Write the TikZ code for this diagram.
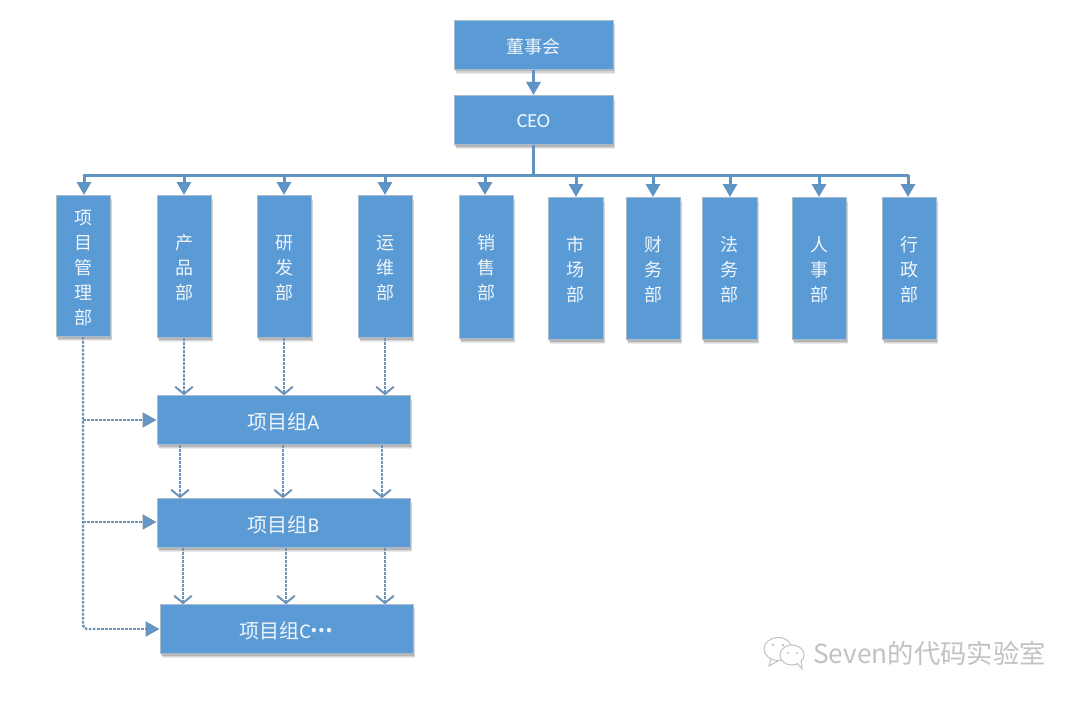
\documentclass[tikz,border=0pt]{standalone}
\usepackage{fontspec}
\setmainfont{Noto Sans CJK SC}
\newfontfamily\latinface{Carlito}
\usetikzlibrary{arrows.meta,shadows,calc}
\definecolor{boxblue}{HTML}{5B9BD5}
\definecolor{boxedge}{HTML}{A9BACB}
\definecolor{solidline}{HTML}{5F93C4}
\definecolor{dashline}{HTML}{6D93B8}
\definecolor{markgrey}{HTML}{C2C2C2}
\newcommand{\orgrule}{18pt}
\tikzset{
  x=1pt,y=-1pt,
  softshadow/.style={
    drop shadow={shadow xshift=2pt,shadow yshift=-4.5pt,opacity=0.07,fill=black},
    drop shadow={shadow xshift=1.5pt,shadow yshift=-3.2pt,opacity=0.10,fill=black},
    drop shadow={shadow xshift=1pt,shadow yshift=-2pt,opacity=0.14,fill=black}},
  orgbox/.style={draw=boxedge,line width=1pt,fill=boxblue,text=white!90!boxblue,inner sep=0pt,
    font=\fontsize{18}{25}\selectfont,align=center,softshadow},
  groupbox/.style={orgbox,font=\fontsize{20}{25}\selectfont},
  solidlink/.style={draw=solidline,line width=3pt,-{Triangle[length=13pt,width=14pt,fill=boxblue]}},
  busline/.style={draw=solidline,line width=3pt},
  dashlink/.style={draw=dashline,line width=2.4pt,dash pattern=on 2.6pt off 1.4pt,
    -{Straight Barb[length=7pt,width=17pt,line width=2pt,round,sep=0pt]}},
  sidelink/.style={draw=dashline,line width=2.4pt,dash pattern=on 2.6pt off 1.4pt,
    -{Triangle[length=14pt,width=15pt,fill=boxblue]}},
  sideline/.style={draw=dashline,line width=2.4pt,dash pattern=on 2.6pt off 1.4pt,rounded corners=4pt},
}
\newcommand{\orgbox}[8][orgbox]{\node[#1,minimum width=#5-#3,minimum height=#6-#4,anchor=center] (#2) at ({(#3+#5)/2},{(#4+#6)/2-0.5}) {\rule{0pt}{#7}#8};}
\begin{document}
\begin{tikzpicture}
\useasboundingbox (0,0) rectangle (1080,701);
\fill[white] (0,0) rectangle (1080,701);
% boxes
\orgbox{board}{454}{21}{613}{70}{18pt}{董事会}
\orgbox{ceo}{454}{96}{613}{145}{18pt}{{\latinface\fontsize{20}{25}\selectfont\raisebox{1.5pt}{CEO}}}
\orgbox{d1}{56}{196}{110}{337}{18pt}{项\\目\\管\\理\\部}
\orgbox{d2}{157}{196}{211}{338}{17pt}{产\\品\\部}
\orgbox{d3}{257}{196}{311}{338}{17pt}{研\\发\\部}
\orgbox{d4}{358}{196}{412}{338}{17pt}{运\\维\\部}
\orgbox{d5}{459}{196}{513}{339}{17pt}{销\\售\\部}
\orgbox{d6}{548}{198}{603}{340}{17pt}{市\\场\\部}
\orgbox{d7}{626}{198}{680}{340}{17pt}{财\\务\\部}
\orgbox{d8}{702}{198}{757}{340}{17pt}{法\\务\\部}
\orgbox{d9}{792}{198}{846}{340}{17pt}{人\\事\\部}
\orgbox{d10}{882}{198}{936}{340}{17pt}{行\\政\\部}
\orgbox[groupbox]{ga}{157}{396}{410}{445}{20pt}{项目组{\latinface\fontsize{21}{25}\selectfont A}}
\orgbox[groupbox]{gb}{157}{499}{410}{548}{20pt}{项目组{\latinface\fontsize{21}{25}\selectfont B}}
\orgbox[groupbox]{gc}{160}{605}{413}{654}{20pt}{项目组{\latinface\fontsize{21}{25}\selectfont C}\raisebox{5.5pt}{\textbf{…}}}
% solid connectors
\draw[solidlink] (board.south) -- (ceo.north);
\coordinate (busc) at ($(ceo.south)+(0,31)$);
\draw[busline] (ceo.south) -- (busc);
\coordinate (busl) at (84,175);
\coordinate (busr) at (908,175);
\draw[busline,line cap=round] (busl) -- (busr);
\foreach \n/\xx in {d1/84,d2/184,d3/284,d4/385,d5/485,d6/576,d7/653,d8/730,d9/819,d10/908}{
  \coordinate (t) at (\xx,175);
  \draw[solidlink] (t) -- (t |- \n.north);
}
% dashed connectors
\foreach \a/\b/\xa in {d2/ga/184,d3/ga/284,d4/ga/385,ga/gb/180,ga/gb/283,ga/gb/382,gb/gc/183,gb/gc/286,gb/gc/385}{
  \coordinate (t) at (\xa,0);
  \draw[dashlink] (t |- \a.south) -- (t |- \b.north);
}
% left dashed line
\coordinate (jc) at (83,629);
\coordinate (jd) at (97,629);
\draw[sideline] (d1.south) -- (jc) -- (jd);
\coordinate (ja) at (83,420);
\coordinate (jb) at (83,522);
\draw[sidelink] (ja) -- (ja -| ga.west);
\draw[sidelink] (jb) -- (jb -| gb.west);
\draw[sidelink] (jd) -- (jd -| gc.west);
% watermark
\begin{scope}[draw=markgrey,line width=1pt,fill=white]
\draw (778,649) ellipse (14 and 11.5);
\draw (771,659) -- (769,666) -- (778,661);
\draw[fill=white] (792,655) ellipse (12 and 10);
\draw[fill=white] (797,663) -- (802,669) -- (801,660);
\fill[markgrey] (773,645) circle (1.3) (783,645) circle (1.3) (788,653) circle (1.1) (797,653) circle (1.1);
\end{scope}
\node[text=markgrey,font=\fontsize{26.3}{26}\selectfont,anchor=west,inner sep=0pt] (mark) at (813,653) {Seven的代码实验室};
\end{tikzpicture}
\end{document}
